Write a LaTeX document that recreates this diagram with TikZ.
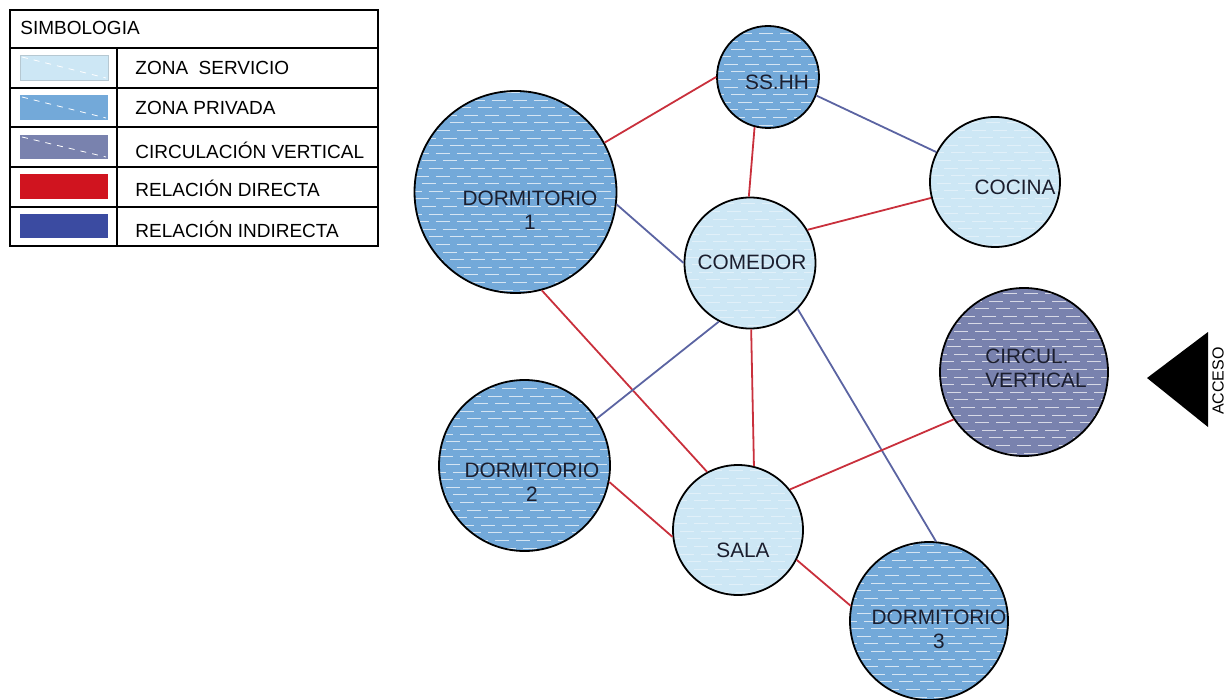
\documentclass[tikz,border=0pt]{standalone}
\usepackage{fontspec}
\setmainfont{Liberation Sans}
\usetikzlibrary{positioning}

\definecolor{servicioC}{HTML}{CDE7F5}
\definecolor{privadaC}{HTML}{73A9D9}
\definecolor{circulC}{HTML}{7982AE}
\definecolor{directaC}{HTML}{C9303C}
\definecolor{indirectaC}{HTML}{5B64A2}
\definecolor{sdirectaC}{HTML}{D0141F}
\definecolor{sindirectaC}{HTML}{3B4BA1}
\definecolor{textoC}{HTML}{1B1E2E}

\tikzset{
  rayado/.style={path picture={
    \foreach \k [evaluate=\k as \fase using {mod(\k,3)*3.4}] in {0,...,30}
      \draw[white, opacity=#1, line width=0.45pt, dash pattern=on 7pt off 3.5pt, dash phase=\fase pt]
        ([yshift=\k*3.8pt+1.5pt]path picture bounding box.south west) --
        ([yshift=\k*3.8pt+1.5pt]path picture bounding box.south east);
  }},
  zona/.style={circle, draw=black, line width=0.9pt, inner sep=0pt},
  servicio/.style={zona, fill=servicioC, rayado=0.4},
  privada/.style={zona, fill=privadaC, rayado=0.7},
  circul/.style={zona, fill=circulC, rayado=0.7},
  directa/.style={draw=directaC, line width=0.9pt},
  indirecta/.style={draw=indirectaC, line width=0.9pt},
  rotulo/.style={text=textoC, font=\fontsize{10.4}{12}\selectfont, align=center, inner sep=0pt},
  leyenda/.style={text=black, font=\fontsize{9.5}{11}\selectfont, anchor=west, inner sep=0pt},
}

\begin{document}
\begin{tikzpicture}[x=0.5pt, y=-0.5pt]
  \useasboundingbox (0,0) rectangle (1225,700);

  % ===== simbologia =====
  \draw[line width=0.8pt] (10,10) rectangle (378,246);
  \foreach \yy in {48,88,127,167,207}
    \draw[line width=0.8pt] (10,\yy) -- (378,\yy);
  \draw[line width=0.8pt] (117,48) -- (117,246);

  \fill[servicioC, draw=servicioC!70!gray] (20,55) rectangle (108,80);
  \draw[white, dashed, line width=0.4pt] (22,57) -- (106,78);
  \fill[privadaC] (20,95) rectangle (108,120);
  \draw[white, dashed, line width=0.4pt] (22,97) -- (106,118);
  \fill[circulC] (20,135) rectangle (108,159);
  \draw[white, dashed, line width=0.4pt] (22,137) -- (106,157);
  \fill[sdirectaC] (20,174) rectangle (108,199);
  \fill[sindirectaC] (20,214) rectangle (108,238);

  \node (simb) [leyenda] at (20,28) {SIMBOLOGIA};
  \node (lserv) [leyenda] at (135,68) {ZONA\ \ SERVICIO};
  \node (lpriv) [leyenda] at (135,108) {ZONA PRIVADA};
  \node (lcirc) [leyenda] at (135,150) {CIRCULACIÓN VERTICAL};
  \node (ldir) [leyenda] at (135,188) {RELACIÓN DIRECTA};
  \node (lind) [leyenda] at (135,229) {RELACIÓN INDIRECTA};

  % ===== ambientes =====
  \node (sshh) [privada, minimum size=51pt] at (768,77) {};
  \node (dorm1) [privada, minimum size=101pt] at (515.5,192) {};
  \node (comedor) [servicio, minimum size=65.5pt] at (750,263) {};
  \node (cocina) [servicio, minimum size=65pt] at (995,182) {};
  \node (circul) [circul, minimum size=84pt] at (1024,372) {};
  \node (dorm2) [privada, minimum size=85.5pt] at (524.5,465.5) {};
  \node (sala) [servicio, minimum size=65pt] at (738,530) {};
  \node (dorm3) [privada, minimum size=79pt] at (929,621) {};

  \node (sshhT) [rotulo] at (777,82) {SS.HH};
  \node (dorm1T) [rotulo] at (530,210) {DORMITORIO\\1};
  \node (comedorT) [rotulo] at (752,262) {COMEDOR};
  \node (cocinaT) [rotulo] at (1015,187) {COCINA};
  \node (circulT) [rotulo, align=left] at (1036,368) {CIRCUL.\\VERTICAL};
  \node (dorm2T) [rotulo] at (532,482) {DORMITORIO\\2};
  \node (salaT) [rotulo] at (743,550) {SALA};
  \node (dorm3T) [rotulo] at (939,629) {DORMITORIO\\3};

  % ===== relaciones =====
  \draw[directa] (dorm1.29) -- (sshh.180);
  \draw[directa] (sshh.-105) -- (comedor.91);
  \draw[indirecta] (sshh.-21) -- (cocina.153);
  \draw[directa] (comedor.30) -- (cocina.-166);
  \draw[indirecta] (dorm1.-7) -- (comedor.180);
  \draw[directa] (dorm1.-75) -- (sala.118);
  \draw[indirecta] (comedor.-118) -- (dorm2.33);
  \draw[directa] (comedor.-89) -- (sala.76);
  \draw[indirecta] (comedor.-44) -- (dorm3.85);
  \draw[directa] (dorm2.-11) -- (sala.-174);
  \draw[directa] (sala.38) -- (circul.-146);
  \draw[directa] (sala.-27) -- (dorm3.169);

  % ===== acceso =====
  \coordinate (puntaA) at (1147,378);
  \coordinate (arribaA) at (1208,332);
  \coordinate (abajoA) at (1208,427);
  \fill (puntaA) -- (arribaA) -- (abajoA) -- cycle;
  \node (acceso) [rotate=90, font=\fontsize{8}{9}\selectfont, inner sep=0pt] at (1218,381) {ACCESO};
\end{tikzpicture}
\end{document}
